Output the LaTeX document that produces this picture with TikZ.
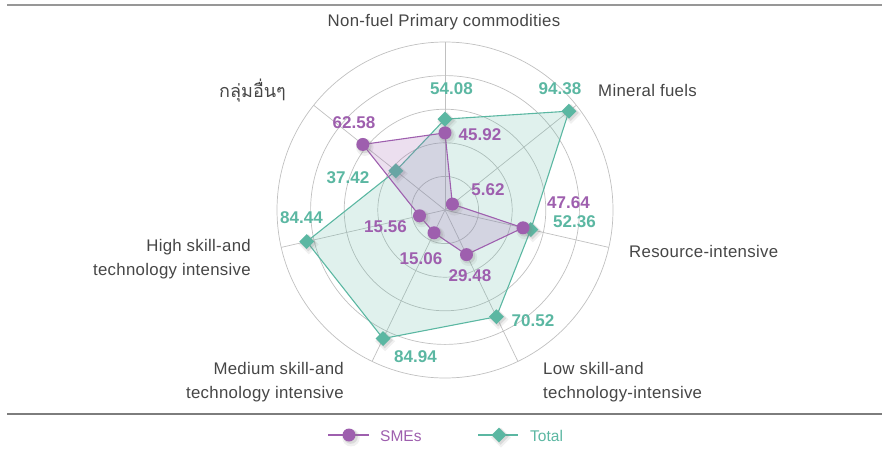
\documentclass[tikz,border=0pt]{standalone}
\usepackage{fontspec}
\setmainfont{Liberation Sans}
\newfontfamily\catfont[LetterSpace=1.8]{Liberation Sans}
\newfontfamily\thaifont[Script=Thai]{Loma}
\usetikzlibrary{shapes.geometric,shadows}
\definecolor{smec}{RGB}{158,95,174}
\definecolor{totc}{RGB}{91,183,162}
\definecolor{gridc}{RGB}{192,192,192}
\definecolor{labc}{RGB}{70,70,70}
\definecolor{rulec}{RGB}{125,125,125}
\tikzset{
  mshadow/.style={drop shadow={shadow xshift=1.5pt,shadow yshift=-2pt,opacity=.12,shadow scale=1.35},
                  drop shadow={shadow xshift=1.5pt,shadow yshift=-1.5pt,opacity=.2,shadow scale=1.1}},
  smemark/.style={circle,fill=smec,minimum size=13pt,inner sep=0pt,mshadow},
  totmark/.style={diamond,fill=totc,minimum width=15pt,minimum height=15pt,inner sep=0pt,mshadow},
  gridline/.style={draw=gridc,line width=0.7pt},
  serline/.style={line width=1.1pt,line join=round},
  numlab/.style={font=\fontsize{17pt}{20pt}\selectfont\bfseries,anchor=base,inner sep=0pt},
  catlab/.style={font=\catfont\fontsize{16.8pt}{24pt}\selectfont,text=labc,inner sep=0pt},
  leglab/.style={font=\fontsize{15.5pt}{18pt}\selectfont,anchor=base west,inner sep=0pt},
  rule/.style={draw=rulec,line width=1.2pt}
}
\begin{document}
\begin{tikzpicture}[x=1pt,y=-1pt]
\useasboundingbox (0,0) rectangle (886,458);
% rules
\coordinate (r1a) at (7,5); \coordinate (r1b) at (882,5);
\coordinate (r2a) at (7,414); \coordinate (r2b) at (882,414);
\draw[rule,draw=rulec!80] (r1a) -- (r1b);
\draw[rule] (r2a) -- (r2b);
\coordinate (O) at (445,210);
\begin{scope}[shift={(O)}]
  % grid
  \foreach \r in {33.6,67.2,100.8,134.4,168}
    \draw[gridline] (0,0) circle[radius=\r pt];
  \foreach \k in {0,...,6}{
    \pgfmathsetmacro{\a}{90-\k*360/7}
    \coordinate (ax\k) at (\a:168pt);
    \draw[gridline] (O) -- (ax\k);
  }
  % data coordinates
  \coordinate (t0) at (90:90.85pt);
  \coordinate (t1) at (38.5714:158.56pt);
  \coordinate (t2) at (-12.8571:87.96pt);
  \coordinate (t3) at (-64.2857:118.47pt);
  \coordinate (t4) at (-115.7143:142.70pt);
  \coordinate (t5) at (-167.1429:141.86pt);
  \coordinate (t6) at (141.4286:62.87pt);
  \coordinate (s0) at (90:77.15pt);
  \coordinate (s1) at (38.5714:9.44pt);
  \coordinate (s2) at (-12.8571:80.04pt);
  \coordinate (s3) at (-64.2857:49.53pt);
  \coordinate (s4) at (-115.7143:25.30pt);
  \coordinate (s5) at (-167.1429:26.14pt);
  \coordinate (s6) at (141.4286:105.13pt);
\end{scope}
% Total series
\fill[totc,fill opacity=.19] (t0) -- (t1) -- (t2) -- (t3) -- (t4) -- (t5) -- (t6) -- cycle;
\draw[serline,totc] (t0) -- (t1) -- (t2) -- (t3) -- (t4) -- (t5) -- (t6) -- cycle;
\foreach \k in {0,...,6} \node[totmark] (tm\k) at (t\k) {};
% SMEs series
\fill[smec,fill opacity=.2] (s0) -- (s1) -- (s2) -- (s3) -- (s4) -- (s5) -- (s6) -- cycle;
\draw[serline,smec] (s0) -- (s1) -- (s2) -- (s3) -- (s4) -- (s5) -- (s6) -- cycle;
\foreach \k in {0,...,6} \node[smemark] (sm\k) at (s\k) {};
% value labels
\node[numlab,text=totc] (v54) at (451.5,94) {54.08};
\node[numlab,text=totc] (v94) at (560,94) {94.38};
\node[numlab,text=smec] (v62) at (354,128) {62.58};
\node[numlab,text=smec] (v45) at (480,140) {45.92};
\node[numlab,text=totc] (v37) at (348,183) {37.42};
\node[numlab,text=smec] (v5) at (488,195) {5.62};
\node[numlab,text=smec] (v47) at (568.5,208) {47.64};
\node[numlab,text=totc] (v52) at (574.5,227) {52.36};
\node[numlab,text=totc] (v84a) at (301.5,223) {84.44};
\node[numlab,text=smec] (v155) at (385.5,232) {15.56};
\node[numlab,text=smec] (v150) at (421,264) {15.06};
\node[numlab,text=smec] (v29) at (470,281) {29.48};
\node[numlab,text=totc] (v70) at (533,326) {70.52};
\node[numlab,text=totc] (v84b) at (415.5,362) {84.94};
% category labels
\node[catlab,anchor=base] (c0) at (444,26) {Non-fuel Primary commodities};
\node[catlab,anchor=base west] (c1) at (598,96) {Mineral fuels};
\node[catlab,anchor=base west] (c2) at (629,257) {Resource-intensive};
\node[catlab,anchor=base west,align=left] (c3) at (543,398) {Low skill-and\\technology-intensive};
\node[catlab,anchor=base east,align=right] (c4) at (344,398) {Medium skill-and\\technology intensive};
\node[catlab,anchor=base east,align=right] (c5) at (251,275) {High skill-and\\technology intensive};
\node[catlab,anchor=base east] (c6) at (286,97) {\thaifont\fontsize{18pt}{20pt}\selectfont กลุ่มอื่นๆ};
% legend
\coordinate (la) at (328,435); \coordinate (lb) at (369,435);
\draw[serline,smec] (la) -- (lb);
\node[smemark] (lsm) at (349,435) {};
\node[leglab,text=smec] (lsmt) at (380,441) {SMEs};
\coordinate (lc) at (478,435); \coordinate (ld) at (518,435);
\draw[serline,totc] (lc) -- (ld);
\node[totmark] (ltm) at (499,435) {};
\node[leglab,text=totc] (ltmt) at (530,441) {Total};
\end{tikzpicture}
\end{document}
